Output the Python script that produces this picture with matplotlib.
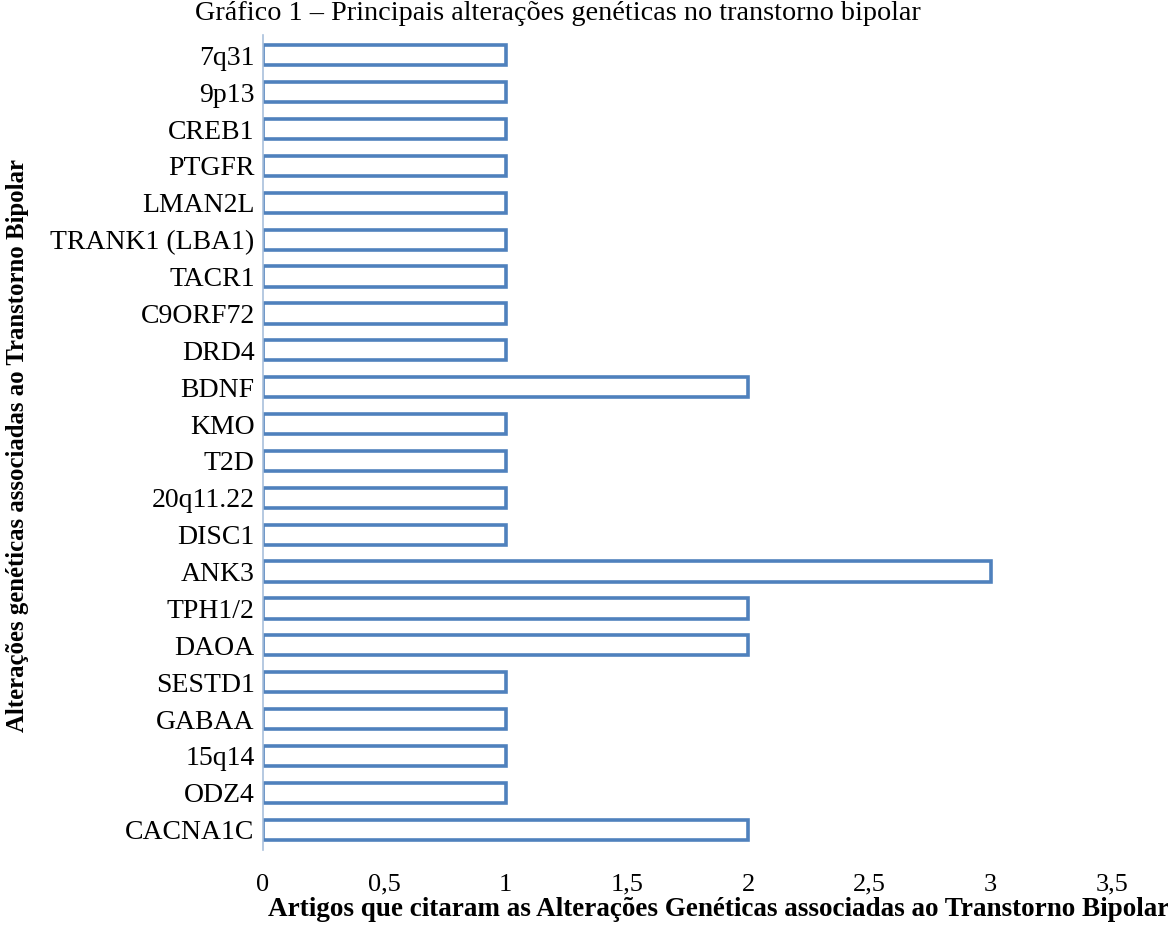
import matplotlib.pyplot as plt
from matplotlib.ticker import FuncFormatter

# categories listed bottom to top, as drawn
genes = ['CACNA1C', 'ODZ4', '15q14', 'GABAA', 'SESTD1', 'DAOA', 'TPH1/2', 'ANK3',
         'DISC1', '20q11.22', 'T2D', 'KMO', 'BDNF', 'DRD4', 'C9ORF72', 'TACR1',
         'TRANK1 (LBA1)', 'LMAN2L', 'PTGFR', 'CREB1', '9p13', '7q31']
artigos = [2, 1, 1, 1, 1, 2, 2, 3, 1, 1, 1, 1, 2, 1, 1, 1, 1, 1, 1, 1, 1, 1]
x_ticks = [0, 0.5, 1, 1.5, 2, 2.5, 3, 3.5]

plt.rcParams['font.family'] = ['Liberation Serif', 'DejaVu Serif']

fig = plt.figure(figsize=(11.68, 9.36), dpi=100)
ax = fig.add_axes([263 / 1168, 1 - 850 / 936, (1112 - 263) / 1168, (850 - 35) / 936])

ax.barh(range(len(genes)), artigos, height=0.55, color='white',
        edgecolor='#4F81BD', linewidth=2.6)

ax.set_xlim(0, 3.5)
ax.set_ylim(-0.55, len(genes) - 0.45)
ax.set_yticks(range(len(genes)))
ax.set_yticklabels(genes, fontsize=20)
ax.set_xticks(x_ticks)
ax.xaxis.set_major_formatter(FuncFormatter(lambda v, p: f'{v:g}'.replace('.', ',')))
ax.tick_params(axis='x', labelsize=19, length=0, pad=17)
ax.tick_params(axis='y', length=0, pad=6)

for s in ['top', 'right', 'bottom']:
    ax.spines[s].set_visible(False)
ax.spines['left'].set_color('#A9C0DC')
ax.spines['left'].set_linewidth(1.2)

fig.text(558 / 1168, 1 - 14 / 936, 'Gráfico 1 – Principais alterações genéticas no transtorno bipolar',
         ha='center', va='center', fontsize=20.3)
fig.text(268 / 1168, 1 - 910 / 936,
         'Artigos que citaram as Alterações Genéticas associadas ao Transtorno Bipolar',
         ha='left', va='center', fontsize=19.5, fontweight='bold')
fig.text(18 / 1168, 1 - 445 / 936, 'Alterações genéticas associadas ao Transtorno Bipolar',
         ha='center', va='center', rotation=90, fontsize=17.8, fontweight='bold')

fig.savefig('out.png', dpi=100)
